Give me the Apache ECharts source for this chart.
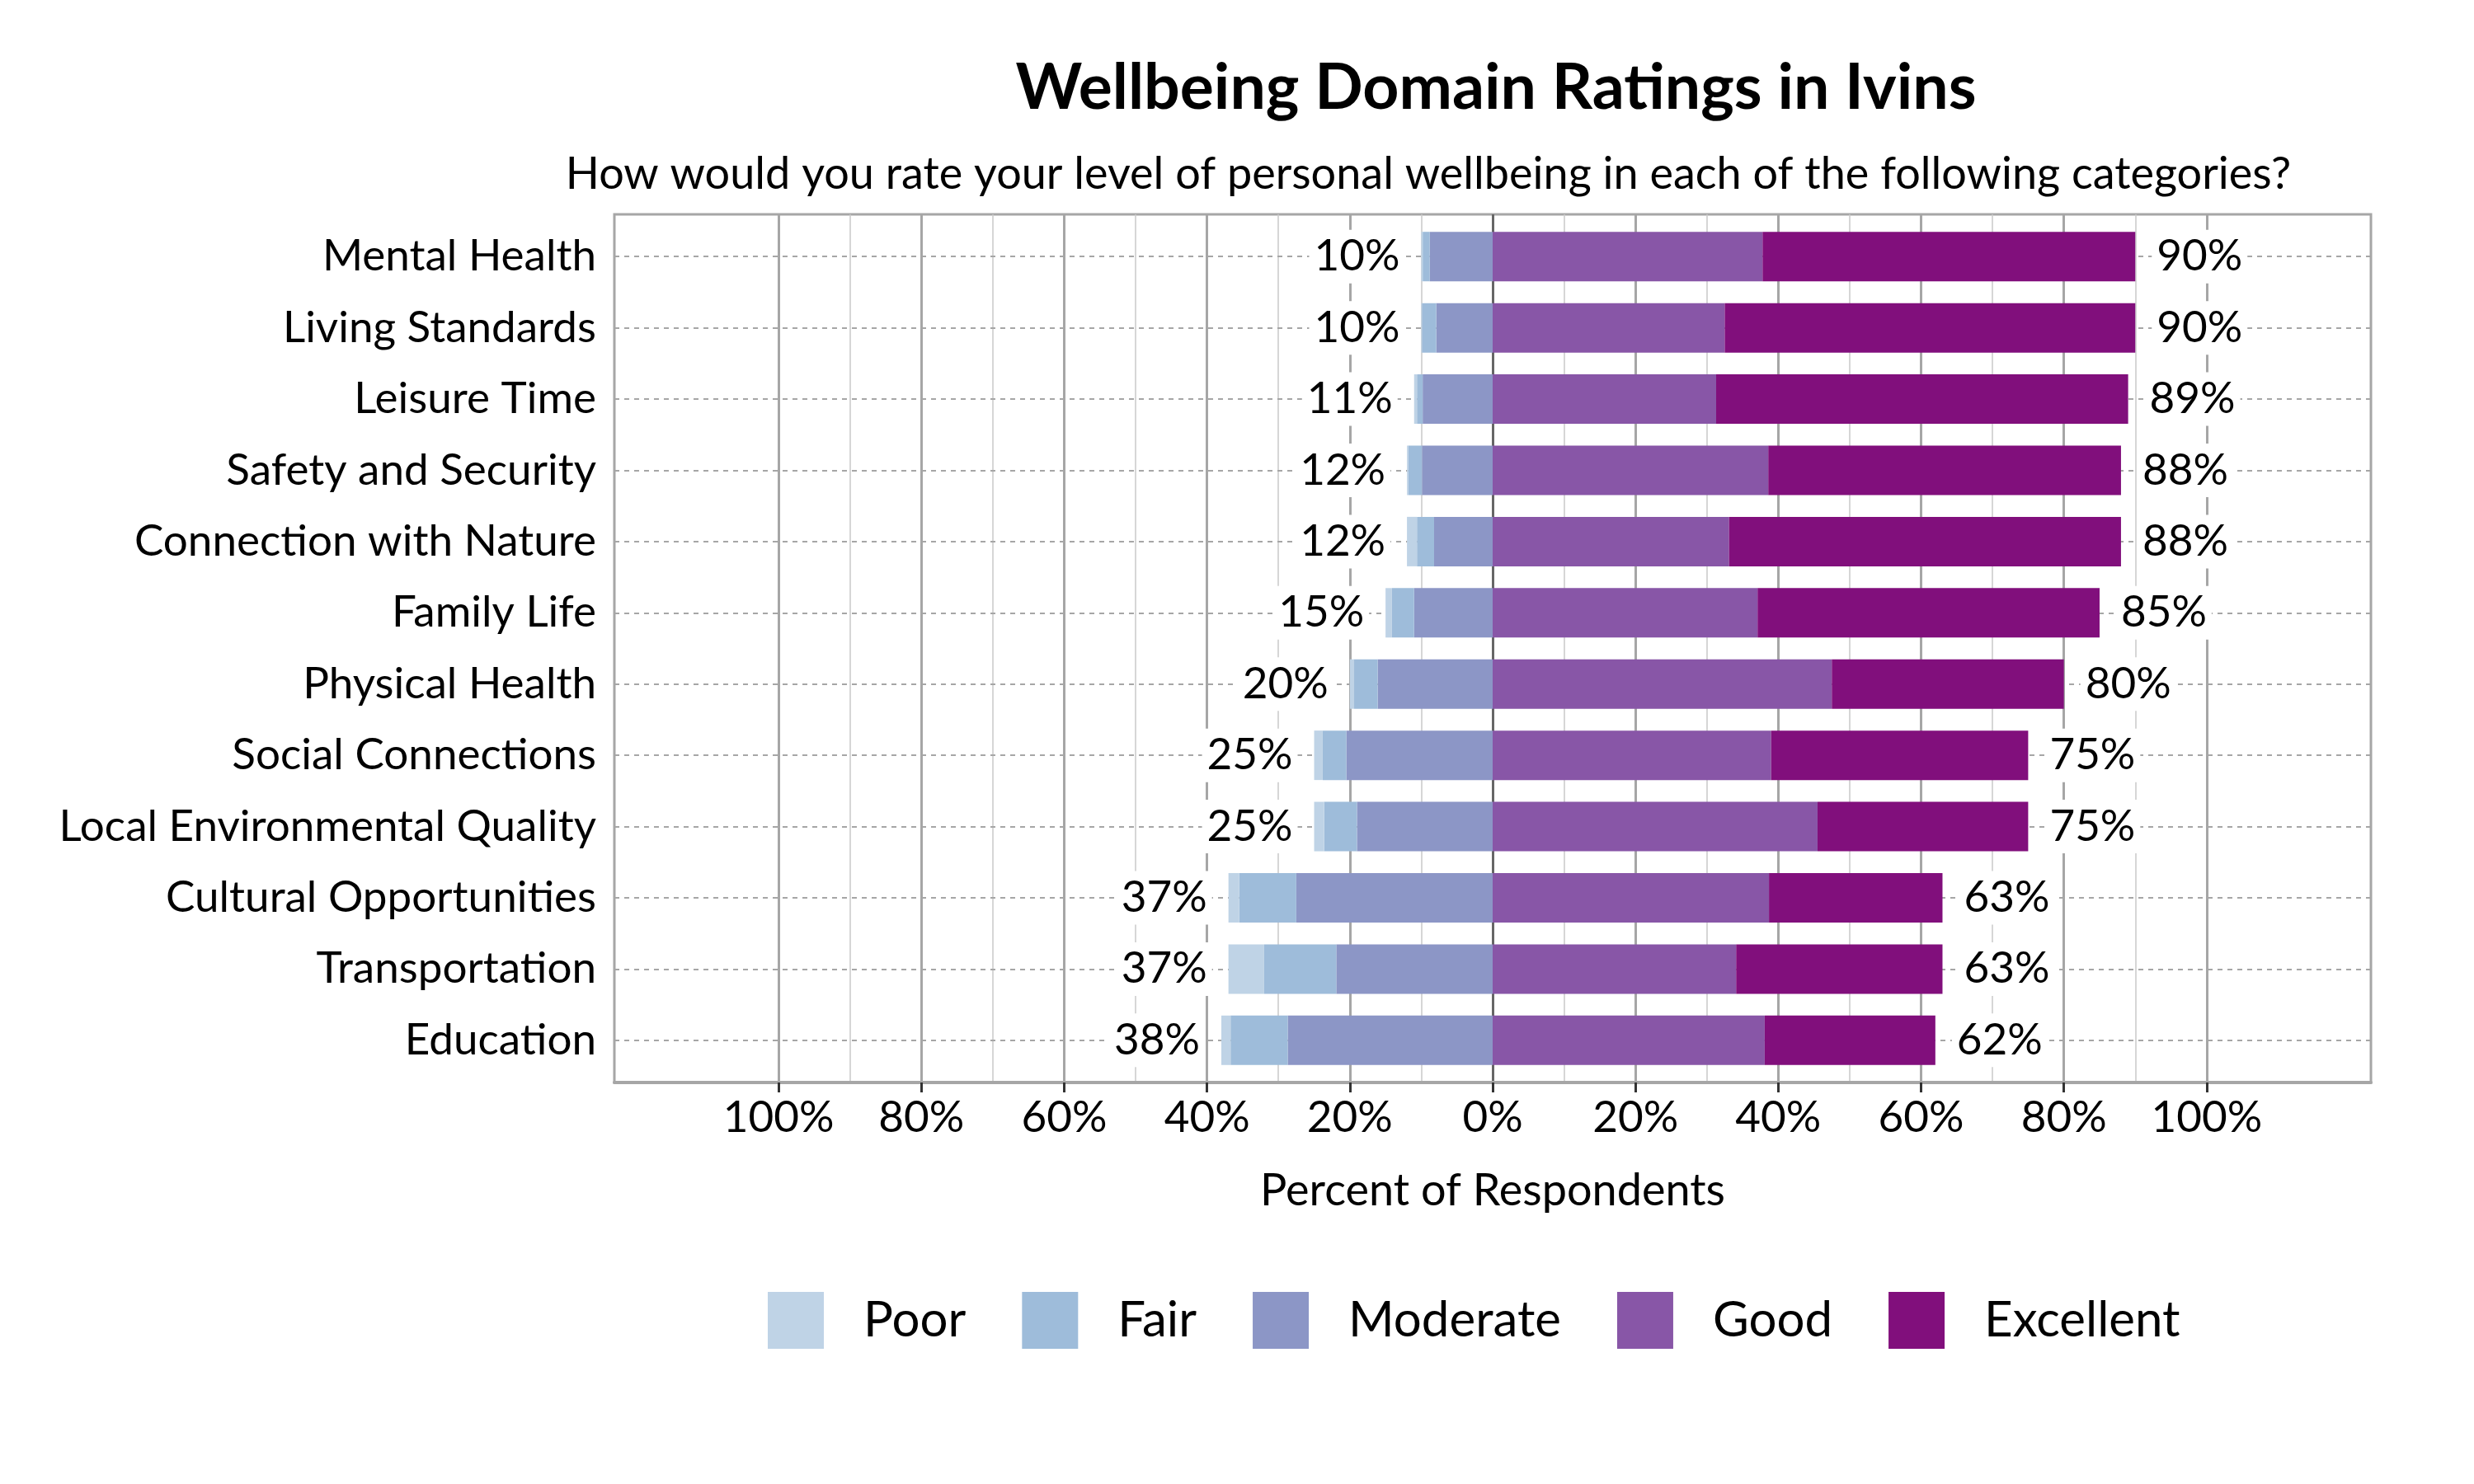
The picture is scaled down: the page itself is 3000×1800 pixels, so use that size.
<!DOCTYPE html>
<html>
<head>
<meta charset="utf-8">
<script src="https://cdn.jsdelivr.net/npm/echarts@6/dist/echarts.min.js"></script>
<style>html,body{margin:0;padding:0;background:#fff;}#c{width:3000px;height:1800px;}</style>
</head>
<body>
<div id="c"></div>
<script>
const categories = ['Mental Health','Living Standards','Leisure Time','Safety and Security','Connection with Nature','Family Life','Physical Health','Social Connections','Local Environmental Quality','Cultural Opportunities','Transportation','Education'];
const poor      = [0.2, 0.1, 0.4, 0.2, 1.4, 0.9, 0.6, 1.2, 1.4, 1.5, 5.0, 1.3];
const fair      = [1.0, 2.0, 0.8, 1.9, 2.4, 3.1, 3.3, 3.3, 4.6, 8.0, 10.1, 8.0];
const moderate  = [8.8, 7.9, 9.8, 9.9, 8.2, 11.0, 16.1, 20.5, 19.0, 27.5, 21.9, 28.7];
const good      = [37.8, 32.5, 31.3, 38.6, 33.1, 37.1, 47.5, 39.0, 45.5, 38.7, 34.1, 38.1];
const excellent = [52.2, 57.5, 57.7, 49.4, 54.9, 47.9, 32.5, 36.0, 29.5, 24.3, 28.9, 23.9];
const majorTicks = [-100, -80, -60, -40, -20, 0, 20, 40, 60, 80, 100];
const minorTicks = [-90, -70, -50, -30, -10, 10, 30, 50, 70, 90];
const legendNames = ['Poor', 'Fair', 'Moderate', 'Good', 'Excellent'];

const FONT = 'Lato';
const colors = { Poor: '#bfd3e6', Fair: '#9ebcda', Moderate: '#8c96c6', Good: '#8856a7', Excellent: '#810f7c' };
const X_MIN = -123, X_MAX = 123;

const negTotal = i => Math.round(poor[i] + fair[i] + moderate[i]);
const posTotal = i => Math.round(good[i] + excellent[i]);

const labelBase = {
  show: true, color: '#000', fontFamily: FONT, fontSize: 53,
  backgroundColor: '#fff', padding: [6, 6], distance: 20
};

function barSeries(name, data, sign, label) {
  return {
    name: name, type: 'bar', stack: 'all', barWidth: 60, z: 3,
    xAxisIndex: 0, yAxisIndex: 0,
    itemStyle: { color: colors[name] },
    data: data.map(v => sign * v),
    label: label || { show: false },
    emphasis: { disabled: true }
  };
}

const chart = echarts.init(document.getElementById('c'), null, { renderer: 'canvas' });
chart.setOption({
  animation: false,
  backgroundColor: '#fff',
  title: [
    { text: 'Wellbeing Domain Ratings in Ivins', left: 1809, top: 64, textAlign: 'center',
      textStyle: { fontFamily: FONT, fontWeight: 'bold', fontSize: 77, color: '#000' } },
    { text: 'How would you rate your level of personal wellbeing in each of the following categories?', left: 1727, top: 180, textAlign: 'center',
      textStyle: { fontFamily: FONT, fontWeight: 'normal', fontSize: 54, color: '#000' } }
  ],
  legend: {
    data: legendNames, left: 926, top: 1562, itemWidth: 68, itemHeight: 69, itemGap: 68,
    icon: 'rect', selectedMode: false,
    formatter: n => n === 'Poor' ? '{p|Poor}' : n,
    textStyle: { fontFamily: FONT, fontSize: 60, color: '#000', padding: [0, 0, 0, 43],
      rich: { p: { fontFamily: FONT, fontSize: 60, color: '#000', padding: [0, 28, 0, 0] } } }
  },
  grid: [
    { left: 745, right: 125, top: 268, bottom: 495, show: false, containLabel: false },
    { left: 745, right: 125, top: 260, bottom: 487, show: true, borderColor: '#a6a6a6', borderWidth: 3, containLabel: false }
  ],
  xAxis: [
    { type: 'value', gridIndex: 0, min: X_MIN, max: X_MAX, show: false, splitLine: { show: false } },
    { type: 'value', gridIndex: 1, min: X_MIN, max: X_MAX, position: 'bottom',
      name: 'Percent of Respondents', nameLocation: 'middle', nameGap: 105,
      nameTextStyle: { fontFamily: FONT, fontSize: 54, color: '#000' },
      axisLine: { show: true, lineStyle: { color: '#a6a6a6', width: 4 } },
      axisTick: { show: true, length: 12, customValues: majorTicks, lineStyle: { color: '#333', width: 3 } },
      axisLabel: { customValues: majorTicks, formatter: v => Math.abs(v) + '%', fontFamily: FONT, fontSize: 53, color: '#000', margin: 16 },
      splitLine: { show: true, lineStyle: { width: 3, color: ['#a6a6a6','#a6a6a6','#a6a6a6','#a6a6a6','#a6a6a6','#666666','#a6a6a6','#a6a6a6','#a6a6a6','#a6a6a6','#a6a6a6'] } }
    },
    { type: 'value', gridIndex: 1, min: X_MIN, max: X_MAX, position: 'top',
      axisLine: { show: false }, axisLabel: { show: false },
      axisTick: { show: false, customValues: minorTicks },
      splitLine: { show: true, lineStyle: { width: 1.5, color: '#c8c8c8' } }
    }
  ],
  yAxis: [
    { type: 'category', gridIndex: 0, data: categories, inverse: true,
      axisLine: { show: false }, axisTick: { show: false },
      axisLabel: { fontFamily: FONT, fontSize: 53, color: '#000', margin: 22 },
      splitLine: { show: false }
    },
    { type: 'value', gridIndex: 1, min: 0, max: 1, show: false, splitLine: { show: false } }
  ],
  series: [
    {
      name: 'grid-h', type: 'line', data: [], silent: true, xAxisIndex: 0, yAxisIndex: 0,
      markLine: {
        silent: true, symbol: 'none', z: 1, animation: false,
        label: { show: false },
        lineStyle: { type: [6, 6], color: '#a6a6a6', width: 2 },
        data: categories.map(c => ({ yAxis: c }))
      }
    },
    barSeries('Moderate', moderate, -1),
    barSeries('Fair', fair, -1),
    barSeries('Poor', poor, -1, Object.assign({}, labelBase, { position: 'left', formatter: p => negTotal(p.dataIndex) + '%' })),
    barSeries('Good', good, 1),
    barSeries('Excellent', excellent, 1, Object.assign({}, labelBase, { position: 'right', formatter: p => posTotal(p.dataIndex) + '%' }))
  ]
});
</script>
</body>
</html>
